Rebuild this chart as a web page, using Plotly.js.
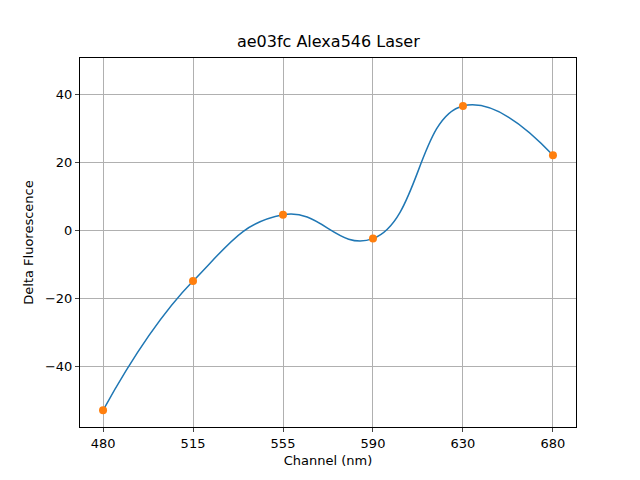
<html><head><script src="https://cdn.plot.ly/plotly-3.0.1.min.js"></script></head>
<body style="margin:0"><div id="myDiv" style="width:640px;height:480px"></div>
<script>
var channels = ['480', '515', '555', '590', '630', '680'];
var positions = [0, 1, 2, 3, 4, 5];
var delta = [-53, -15, 4.5, -2.5, 36.5, 22];

var curve = { x: positions, y: delta, type: 'scatter', mode: 'lines',
  line: { color: '#1f77b4', width: 1.5, shape: 'spline', smoothing: 1.3 } };
var pts = { x: positions, y: delta, type: 'scatter', mode: 'markers',
  marker: { color: '#ff7f0e', size: 8 } };

var axisStyle = { showline: true, mirror: true, linecolor: 'black', linewidth: 1,
  gridcolor: '#b0b0b0', ticks: 'outside', ticklen: 4, zeroline: false,
  tickfont: { size: 13, color: 'black' } };

var layout = {
  width: 640, height: 480, showlegend: false,
  margin: { l: 80, r: 64, t: 58, b: 53 },
  paper_bgcolor: 'white', plot_bgcolor: 'white',
  font: { family: 'DejaVu Sans', color: 'black' },
  title: { text: 'ae03fc Alexa546 Laser', font: { size: 16 }, x: 0.513, y: 0.925 },
  xaxis: Object.assign({}, axisStyle, { range: [-0.256, 5.256], tickvals: positions, ticktext: channels,
    title: { text: 'Channel (nm)', font: { size: 13 }, standoff: 6 } }),
  yaxis: Object.assign({}, axisStyle, { range: [-57.9, 50.6], tickvals: [-40, -20, 0, 20, 40],
    ticktext: ['\u221240', '\u221220', '0', '20', '40'],
    title: { text: 'Delta Fluorescence', font: { size: 13 }, standoff: 8 } })
};
Plotly.newPlot('myDiv', [curve, pts], layout, { displayModeBar: false });
</script></body></html>
